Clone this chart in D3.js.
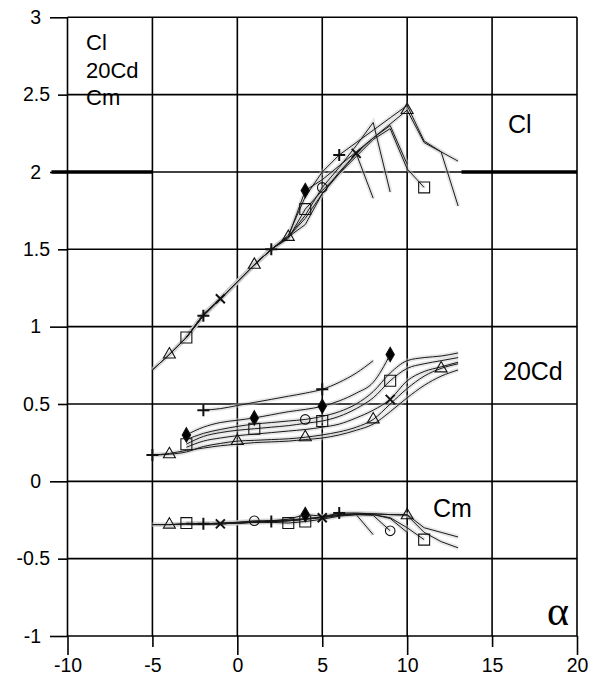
<!DOCTYPE html>
<html>
<head>
<meta charset="utf-8">
<script src="https://cdn.jsdelivr.net/npm/d3@7"></script>
<style>
  body { margin: 0; background: #fff; }
  text { font-family: "Liberation Sans", Arial, sans-serif; fill: #000; }
</style>
</head>
<body>
<div id="chart"></div>
<script>
// ---------------- DATA ----------------
// axis ticks
const xMajor = [-10, 0, 10, 20];
const xMinor = [-5, 5, 15];
const yMajor = [-1, 0, 1, 2, 3];
const yMinor = [-0.5, 0.5, 1.5, 2.5];

// series symbols (shared by the three groups of curves)
const clSymbols = ['plus', 'triangle', 'diamond', 'square', 'circle', 'x'];
const cdSymbols = ['plus', 'diamond', 'circle', 'square', 'x', 'triangle', 'plus'];
const cmSymbols = ['plus', 'triangle', 'diamond', 'square', 'circle', 'x'];

// Cl
const clAlpha = [
  [-5,-4,-3,-2,-1,0,1,2,3,4,5,6,7,8,9,10,11,12,13],
  [-5,-4,-3,-2,-1,0,1,2,3,4,5,6,7,8,9,10,11,13],
  [-3,-2,-1,0,1,2,3,4,5,6,7,8,9,10],
  [-3,-2,-1,0,1,2,3,4,5,6,7,8,9,10,11],
  [-3,-2,-1,0,1,2,3,4,5,6,7,8,9],
  [-4,-3,-2,-1,0,1,2,3,4,5,6,7,8]
];
const clValues = [
  [0.72,0.82,0.93,1.07,1.18,1.29,1.40,1.50,1.59,1.84,2.00,2.11,2.19,2.27,2.35,2.43,2.20,2.13,1.78],
  [0.72,0.82,0.93,1.08,1.18,1.29,1.40,1.50,1.58,1.66,1.86,2.00,2.12,2.22,2.31,2.40,2.19,2.07],
  [0.93,1.08,1.18,1.29,1.40,1.50,1.58,1.88,1.95,2.04,2.13,2.22,2.30,2.05],
  [0.93,1.07,1.18,1.29,1.40,1.50,1.57,1.76,1.88,1.99,2.10,2.21,2.28,2.02,1.90],
  [0.93,1.08,1.18,1.29,1.40,1.50,1.58,1.72,1.90,2.03,2.17,2.32,1.87],
  [0.82,0.93,1.07,1.18,1.29,1.40,1.50,1.58,1.70,1.86,1.99,2.12,1.83]
];
const clMarkAt = [[-2, 2, 6], [-4, 1, 3, 10], [4], [-3, 4, 11], [5], [-1, 7]];

// 20 Cd
const cdAlpha = [
  [-2,-1,0,1,2,3,4,5,6,7,8],
  [-3,-2,-1,0,1,2,3,4,5,6,7,8,9],
  [-3,-2,-1,0,1,2,3,4,5,6,7,8,9,10,11,12,13],
  [-3,-2,-1,0,1,2,3,4,5,6,7,8,9,10,11,12,13],
  [-3,-2,-1,0,1,2,3,4,5,6,7,8,9,10,11,12,13],
  [-5,-4,-3,-2,-1,0,1,2,3,4,5,6,7,8,9,10,11,12,13],
  [-5,-4,-3,-2,-1,0,1,2,3,4,5,6,7,8,9,10,11,12,13]
];
const cdValues = [
  [0.46,0.47,0.49,0.51,0.53,0.55,0.57,0.595,0.64,0.70,0.78],
  [0.30,0.35,0.38,0.395,0.41,0.43,0.45,0.465,0.485,0.52,0.57,0.64,0.82],
  [0.27,0.31,0.335,0.355,0.37,0.38,0.39,0.40,0.42,0.45,0.50,0.58,0.70,0.78,0.80,0.81,0.83],
  [0.24,0.29,0.315,0.33,0.34,0.35,0.36,0.375,0.39,0.42,0.47,0.54,0.65,0.73,0.76,0.78,0.80],
  [0.22,0.26,0.28,0.295,0.305,0.315,0.325,0.335,0.35,0.37,0.41,0.46,0.53,0.65,0.71,0.74,0.77],
  [0.17,0.175,0.19,0.225,0.245,0.26,0.265,0.27,0.275,0.285,0.30,0.32,0.35,0.40,0.50,0.60,0.68,0.73,0.76],
  [0.17,0.18,0.20,0.215,0.23,0.24,0.25,0.255,0.26,0.27,0.28,0.30,0.33,0.37,0.45,0.54,0.62,0.68,0.72]
];
const cdMarkAt = [[-2, 5], [-3, 1, 5, 9], [4], [-3, 1, 5, 9], [9], [-4, 0, 4, 8, 12], [-5]];

// Cm
const cmAlpha = [
  [-5,-4,-3,-2,-1,0,1,2,3,4,5,6,7,8,9,10,11,12,13],
  [-5,-4,-3,-2,-1,0,1,2,3,4,5,6,7,8,9,10,11,12,13],
  [-3,-2,-1,0,1,2,3,4,5,6,7,8,9,10],
  [-3,-2,-1,0,1,2,3,4,5,6,7,8,9,10,11],
  [-3,-2,-1,0,1,2,3,4,5,6,7,8,9],
  [-4,-3,-2,-1,0,1,2,3,4,5,6,7,8]
];
const cmValues = [
  [-0.28,-0.28,-0.275,-0.275,-0.275,-0.27,-0.265,-0.26,-0.255,-0.245,-0.23,-0.205,-0.205,-0.21,-0.215,-0.215,-0.30,-0.33,-0.36],
  [-0.28,-0.28,-0.275,-0.275,-0.275,-0.27,-0.265,-0.26,-0.255,-0.245,-0.23,-0.215,-0.21,-0.21,-0.215,-0.22,-0.33,-0.39,-0.43],
  [-0.275,-0.275,-0.27,-0.265,-0.26,-0.255,-0.245,-0.215,-0.225,-0.215,-0.21,-0.215,-0.24,-0.33],
  [-0.27,-0.275,-0.275,-0.27,-0.265,-0.265,-0.27,-0.26,-0.245,-0.225,-0.215,-0.215,-0.235,-0.30,-0.377],
  [-0.275,-0.275,-0.27,-0.265,-0.255,-0.255,-0.25,-0.24,-0.235,-0.22,-0.215,-0.22,-0.32],
  [-0.28,-0.275,-0.275,-0.275,-0.27,-0.265,-0.26,-0.255,-0.245,-0.235,-0.22,-0.215,-0.345]
];
const cmMarkAt = [[-2, 2, 6], [-4, 10], [4], [-3, 3, 4, 11], [1, 9], [-1, 5]];

// text labels
const legendLines = ['Cl', '20Cd', 'Cm'];

// ---------------- CHART ----------------
const W = 601, H = 689;
const x = d3.scaleLinear().domain([-10, 20]).range([67.5, 577]);
const y = d3.scaleLinear().domain([-1, 3]).range([636, 17.3]);

const svg = d3.select('#chart').append('svg')
  .attr('width', W).attr('height', H);

// grid
const grid = svg.append('g').attr('stroke', '#000').attr('stroke-width', 1.6);
grid.selectAll('.hl')
  .data(yMajor.concat(yMinor))
  .enter().append('line')
  .attr('x1', x(-10)).attr('x2', x(20))
  .attr('y1', d => y(d)).attr('y2', d => y(d));
grid.selectAll('.vl')
  .data(xMajor.concat(xMinor))
  .enter().append('line')
  .attr('y1', y(-1)).attr('y2', y(3))
  .attr('x1', d => x(d)).attr('x2', d => x(d));

// bold line at 2 (hidden behind the pasted curve picture in the middle)
[[-10, -5], [13.2, 20]].forEach(seg => {
  svg.append('line')
    .attr('x1', seg[0] === -10 ? x(-10) - 16 : x(seg[0])).attr('x2', x(seg[1]))
    .attr('y1', y(2)).attr('y2', y(2))
    .attr('stroke', '#000').attr('stroke-width', 3.4);
});

// axes (major ticks long, minor short)
function styleAxis(g) {
  g.select('.domain').remove();
  g.selectAll('line').attr('stroke', '#000').attr('stroke-width', 1.6);
  g.selectAll('text').attr('font-size', 19.5).attr('fill', '#000')
    .attr('font-family', '"Liberation Sans", Arial, sans-serif');
}
const fmt = d => String(d);
svg.append('g').attr('transform', `translate(${x(-10)},0)`)
  .call(d3.axisLeft(y).tickValues(yMajor).tickSize(17.5).tickPadding(9).tickFormat(fmt))
  .call(styleAxis);
svg.append('g').attr('transform', `translate(${x(-10)},0)`)
  .call(d3.axisLeft(y).tickValues(yMinor).tickSize(9.5).tickPadding(8).tickFormat(fmt))
  .call(styleAxis);
svg.append('g').attr('transform', `translate(0,${y(-1)})`)
  .call(d3.axisBottom(x).tickValues(xMajor).tickSize(19).tickPadding(3.5).tickFormat(fmt))
  .call(styleAxis);
svg.append('g').attr('transform', `translate(0,${y(-1)})`)
  .call(d3.axisBottom(x).tickValues(xMinor).tickSize(11).tickPadding(11.5).tickFormat(fmt))
  .call(styleAxis);

// curves
function symPath(name) {
  const s = 6;
  switch (name) {
    case 'plus': return `M${-s},0H${s}M0,${-s}V${s}`;
    case 'x': return `M${-4.5},${-4.5}L4.5,4.5M${-4.5},4.5L4.5,${-4.5}`;
    case 'triangle': return d3.symbol(d3.symbolTriangle, 62)();
    case 'diamond': return d3.symbol(d3.symbolDiamond, 60)();
    case 'circle': return d3.symbol(d3.symbolCircle, 72)();
    case 'square': return d3.symbol(d3.symbolSquare, 120)();
  }
}

function drawGroup(alphas, values, marks, symbols, curve) {
  const g = svg.append('g');
  const line = d3.line().x(d => x(d[0])).y(d => y(d[1])).curve(curve);
  // light grey fuzz of the scanned original
  alphas.forEach((al, i) => {
    const pts = al.map((a, j) => [a, values[i][j]]);
    g.append('path').attr('d', line(pts))
      .attr('fill', 'none').attr('stroke', '#c8c8c8').attr('stroke-width', 4.5).attr('opacity', 0.45);
  });
  alphas.forEach((al, i) => {
    const pts = al.map((a, j) => [a, values[i][j]]);
    g.append('path').attr('d', line(pts))
      .attr('fill', 'none').attr('stroke', '#1a1a1a').attr('stroke-width', 1);
  });
  alphas.forEach((al, i) => {
    const sym = symbols[i];
    const mpts = marks[i].map(a => [a, values[i][al.indexOf(a)]]);
    const filled = (sym === 'diamond');
    g.selectAll(null).data(mpts).enter().append('path')
      .attr('transform', d => `translate(${x(d[0])},${y(d[1])})`)
      .attr('d', symPath(sym))
      .attr('fill', filled ? '#000' : 'none')
      .attr('stroke', '#111')
      .attr('stroke-width', (sym === 'plus' || sym === 'x') ? 2 : 1.1);
  });
}

drawGroup(cdAlpha, cdValues, cdMarkAt, cdSymbols, d3.curveMonotoneX);
drawGroup(cmAlpha, cmValues, cmMarkAt, cmSymbols, d3.curveLinear);
drawGroup(clAlpha, clValues, clMarkAt, clSymbols, d3.curveLinear);

// legend at top left
svg.append('g').selectAll('text')
  .data(legendLines)
  .enter().append('text')
  .attr('x', 86).attr('y', (d, i) => 50 + i * 27.6)
  .attr('font-size', 22)
  .text(d => d);

// labels next to the curve groups
svg.append('text').attr('x', 508).attr('y', 133).attr('font-size', 25).text('Cl');
svg.append('text').attr('x', 503).attr('y', 380).attr('font-size', 25).text('20Cd');
svg.append('text').attr('x', 433).attr('y', 517).attr('font-size', 25).text('Cm');
svg.append('text').attr('x', 569).attr('y', 625).attr('text-anchor', 'end')
  .attr('font-size', 42).style('font-family', '"Liberation Serif", serif').text('α');
</script>
</body>
</html>
